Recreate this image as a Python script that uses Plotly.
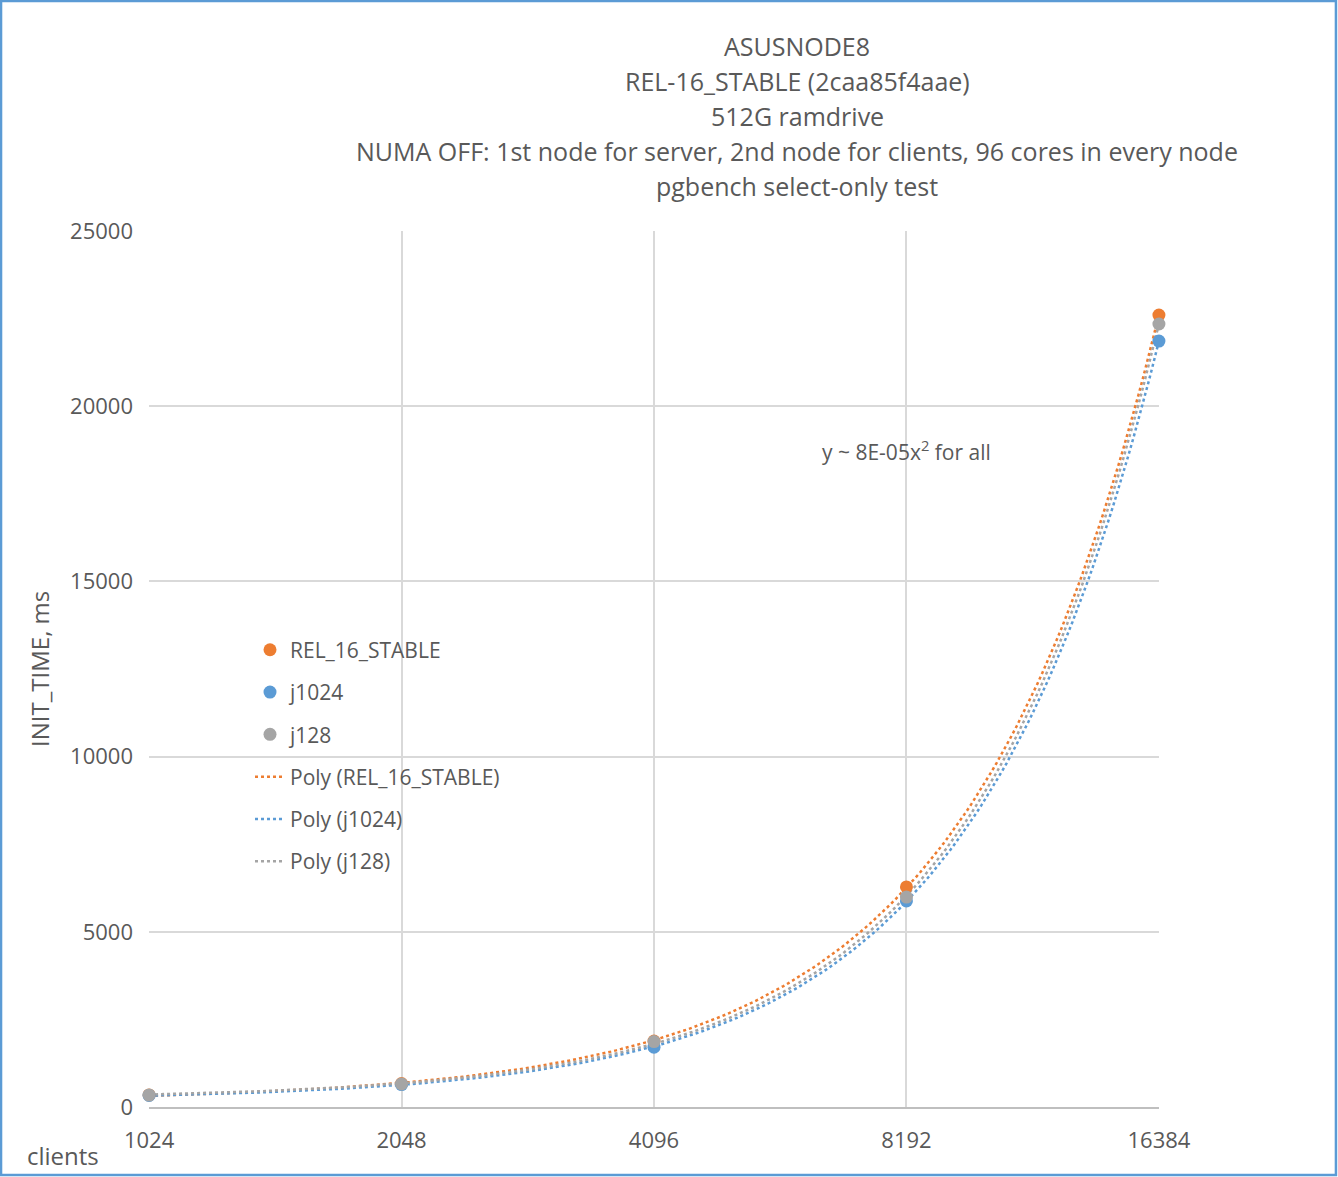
import numpy as np
import plotly.graph_objects as go

# data
clients = [1024, 2048, 4096, 8192, 16384]
rel_16_stable = [345, 670, 1880, 6280, 22600]
j1024 = [330, 640, 1706, 5880, 21860]
j128 = [340, 656, 1866, 5990, 22346]

series = [
    ("REL_16_STABLE", rel_16_stable, "#ED7D31"),
    ("j1024", j1024, "#5B9BD5"),
    ("j128", j128, "#A5A5A5"),
]

title_lines = [
    "ASUSNODE8",
    "REL-16_STABLE (2caa85f4aae)",
    "512G ramdrive",
    "NUMA OFF: 1st node for server, 2nd node for clients, 96 cores in every node",
    "pgbench select-only test",
]

FONT = "Open Sans"
TXT = "#595959"

fig = go.Figure()

# 2nd order polynomial trendlines, like Excel does it
xs = np.geomspace(clients[0], clients[-1], 200)
for name, vals, color in series:
    coef = np.polyfit(clients, vals, 2)
    fig.add_trace(
        go.Scatter(
            x=xs,
            y=np.polyval(coef, xs),
            mode="lines",
            name=f"Poly ({name})",
            legendgroup=f"poly_{name}",
            legendrank=2000,
            line=dict(color=color, width=2.5, dash="dot"),
        )
    )

# markers on top of the trendlines
for name, vals, color in series:
    fig.add_trace(
        go.Scatter(
            x=clients,
            y=vals,
            mode="markers",
            name=name,
            legendgroup=name,
            legendrank=1000,
            cliponaxis=False,
            marker=dict(color=color, size=13),
        )
    )

title_y = [1.2112, 1.1712, 1.1313, 1.0913, 1.0514]
annotations = [
    dict(
        text=t, x=0.6416, y=y, xref="paper", yref="paper",
        xanchor="center", yanchor="middle", showarrow=False,
        font=dict(family=FONT, size=25, color=TXT),
    )
    for t, y in zip(title_lines, title_y)
]
annotations += [
    dict(
        text="y ~ 8E-05x<sup>2</sup> for all", x=0.664, y=0.75,
        xref="paper", yref="paper", xanchor="left", yanchor="middle",
        showarrow=False, font=dict(family=FONT, size=21, color=TXT),
    ),
    dict(
        text="clients", x=-0.123, y=-0.055, xref="paper", yref="paper",
        xanchor="left", yanchor="middle", showarrow=False,
        font=dict(family=FONT, size=24, color=TXT),
    ),
    dict(
        text="INIT_TIME, ms", x=-0.109, y=0.5, xref="paper", yref="paper",
        xanchor="center", yanchor="middle", textangle=-90, showarrow=False,
        font=dict(family=FONT, size=24, color=TXT),
    ),
]

fig.update_layout(
    width=1338,
    height=1177,
    margin=dict(l=149, r=179, t=231, b=70),
    paper_bgcolor="white",
    plot_bgcolor="white",
    font=dict(family=FONT, size=20, color=TXT),
    annotations=annotations,
    legend=dict(
        x=0.1, y=0.545, xanchor="left", yanchor="top",
        bgcolor="rgba(0,0,0,0)", tracegroupgap=12,
        font=dict(family=FONT, size=21, color=TXT),
    ),
    shapes=[
        dict(
            type="rect", xref="paper", yref="paper",
            x0=-0.1465, x1=1.1752, y0=-0.0776, y1=1.2626,
            line=dict(color="#5B9BD5", width=2.5),
        )
    ],
)

fig.update_xaxes(
    type="log",
    # tiny padding so the edge points are not dropped as out of range
    range=[np.log10(clients[0]) - 1e-4, np.log10(clients[-1]) + 1e-4],
    tickvals=clients,
    ticktext=[str(c) for c in clients],
    showgrid=True,
    gridcolor="#D9D9D9",
    gridwidth=1.5,
    showline=True,
    linecolor="#BFBFBF",
    linewidth=1.5,
    ticks="",
    ticklabelstandoff=13,
    zeroline=False,
    tickfont=dict(family=FONT, size=22, color=TXT),
)
fig.update_yaxes(
    range=[0, 25000],
    tickvals=[0, 5000, 10000, 15000, 20000, 25000],
    tickformat="d",
    showgrid=True,
    gridcolor="#D9D9D9",
    gridwidth=1.5,
    showline=False,
    zeroline=False,
    ticks="",
    ticklabelstandoff=15,
    tickfont=dict(family=FONT, size=22, color=TXT),
)

fig.write_html(
    "out.html",
    config={"displayModeBar": False},
    post_script="document.body.style.margin = '0';",
)
